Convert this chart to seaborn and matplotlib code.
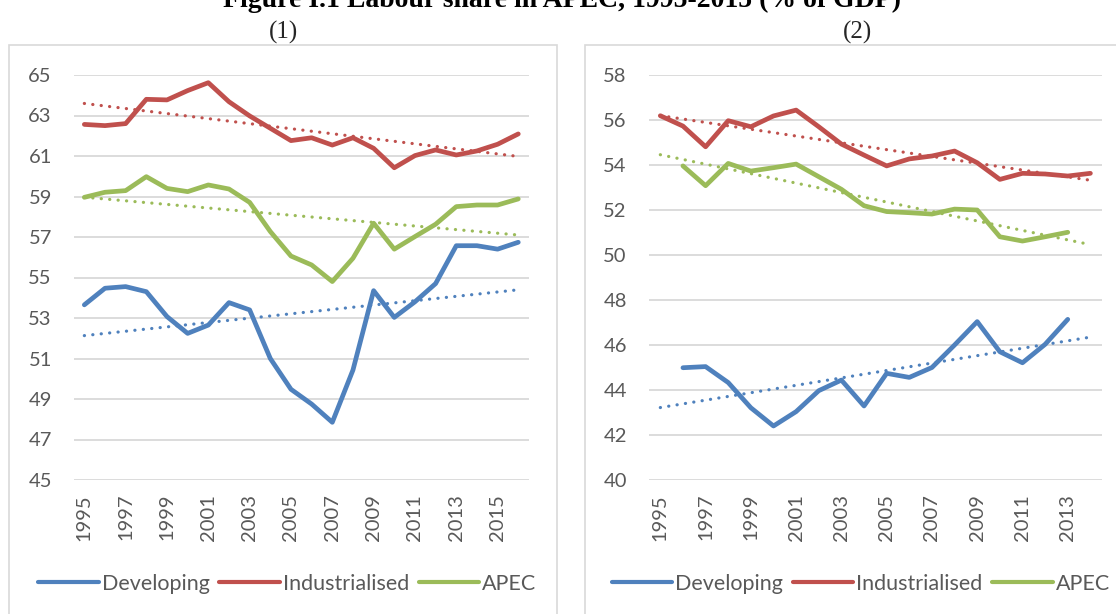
import numpy as np
import pandas as pd
import matplotlib
matplotlib.use('Agg')
import matplotlib.pyplot as plt
import seaborn as sns
from matplotlib.patches import Rectangle
from matplotlib.lines import Line2D

# Panel (1): 1995-2016
years1 = list(range(1995, 2017))
developing1 = [53.65, 54.47, 54.55, 54.3, 53.07, 52.24, 52.65, 53.76, 53.4, 51.0, 49.48,
               48.75, 47.85, 50.43, 54.35, 53.03, 53.8, 54.7, 56.57, 56.57, 56.4, 56.74]
industrialised1 = [62.56, 62.5, 62.6, 63.8, 63.77, 64.23, 64.62, 63.68, 62.98, 62.37, 61.76,
                   61.9, 61.54, 61.9, 61.38, 60.42, 61.02, 61.3, 61.05, 61.25, 61.58, 62.09]
apec1 = [58.96, 59.21, 59.29, 59.98, 59.4, 59.24, 59.57, 59.37, 58.71, 57.27, 56.06,
         55.62, 54.8, 55.95, 57.68, 56.4, 57.02, 57.63, 58.5, 58.58, 58.58, 58.88]

# Panel (2): 1995-2014 (developing / APEC only 1996-2013)
years2 = list(range(1995, 2015))
developing2 = [np.nan, 44.99, 45.04, 44.33, 43.21, 42.4, 43.04, 43.97, 44.44, 43.29, 44.74,
               44.56, 45.0, 46.0, 47.04, 45.7, 45.21, 46.03, 47.14, np.nan]
industrialised2 = [56.19, 55.73, 54.81, 55.97, 55.7, 56.18, 56.44, 55.7, 54.93, 54.44, 53.96,
                   54.27, 54.4, 54.62, 54.1, 53.36, 53.63, 53.6, 53.51, 53.63]
apec2 = [np.nan, 53.96, 53.08, 54.07, 53.73, 53.88, 54.04, 53.48, 52.92, 52.19, 51.93,
         51.88, 51.82, 52.04, 52.0, 50.81, 50.62, 50.81, 51.01, np.nan]

series_names = ['Developing', 'Industrialised', 'APEC']
colors = {'Developing': '#4F81BD', 'Industrialised': '#C0504D', 'APEC': '#9BBB59'}

sns.set_style('white')
plt.rcParams['font.family'] = ['Lato', 'DejaVu Sans']

W, H = 1116, 614
fig = plt.figure(figsize=(W / 100, H / 100), dpi=100)


def fpos(x0, y0, x1, y1):
    # pixel box -> figure fraction
    return [x0 / W, 1 - y1 / H, (x1 - x0) / W, (y1 - y0) / H]


# panel frames
for x0, x1 in [(9, 557), (585, 1130)]:
    fig.patches.append(Rectangle((x0 / W, -0.05), (x1 - x0) / W, 1.05 - 45 / H,
                                 transform=fig.transFigure, fill=False,
                                 edgecolor='#d9d9d9', linewidth=1.2))

# title is clipped by the top edge, as in the source page
fig.text(562 / W, 1 - 7 / H, 'Figure I.1 Labour share in APEC, 1995-2015 (% of GDP)',
         ha='center', va='baseline', fontsize=20, fontweight='bold',
         family='Liberation Serif', color='black')
fig.text(283 / W, 1 - 32 / H, '(1)', ha='center', va='center', fontsize=18,
         family='Liberation Serif')
fig.text(858 / W, 1 - 32 / H, '(2)', ha='center', va='center', fontsize=18,
         family='Liberation Serif')


def draw_panel(ax, years, data, ylim, yticks):
    df = pd.DataFrame({'Year': years, **data})
    long = df.melt(id_vars='Year', var_name='Series', value_name='Value').dropna()
    sns.lineplot(data=long, x='Year', y='Value', hue='Series', hue_order=series_names,
                 palette=colors, linewidth=3.4, ax=ax, legend=False,
                 solid_capstyle='round', solid_joinstyle='round', zorder=3)
    # linear trendlines (as Excel does)
    xs = np.arange(len(years))
    for name in series_names:
        vals = np.array(data[name], dtype=float)
        ok = ~np.isnan(vals)
        k, b = np.polyfit(xs[ok], vals[ok], 1)
        ax.plot(years, k * xs + b, color=colors[name], linewidth=2.3,
                linestyle=(0, (0.05, 2.6)), dash_capstyle='round', zorder=2)
    ax.set_xlim(years[0] - 0.5, years[-1] + 0.5)
    ax.set_ylim(*ylim)
    ax.set_yticks(yticks)
    ax.set_xticks(years[::2])
    ax.set_xticklabels([str(y) for y in years[::2]], rotation=90)
    ax.grid(axis='y', color='#d9d9d9', linewidth=1.3)
    ax.grid(axis='x', visible=False)
    ax.set_axisbelow(True)
    for s in ax.spines.values():
        s.set_visible(False)
    ax.tick_params(axis='both', length=0, labelsize=14.5, colors='#595959')
    ax.tick_params(axis='y', pad=16)
    ax.tick_params(axis='x', pad=10)
    ax.set_xlabel('')
    ax.set_ylabel('')
    ax.patch.set_alpha(0)


ax1 = fig.add_axes(fpos(74, 75, 528.6, 480))
draw_panel(ax1, years1, {'Developing': developing1, 'Industrialised': industrialised1,
                         'APEC': apec1}, (45, 65), range(45, 66, 2))
ax2 = fig.add_axes(fpos(649, 75, 1101.7, 480))
draw_panel(ax2, years2, {'Developing': developing2, 'Industrialised': industrialised2,
                         'APEC': apec2}, (40, 58), range(40, 59, 2))

handles = [Line2D([], [], color=colors[n], linewidth=3.0, solid_capstyle='round')
           for n in series_names]
for cx in [287.5 / W, 861 / W]:
    fig.legend(handles, series_names, loc='center', bbox_to_anchor=(cx, 1 - 584 / H),
               ncol=3, frameon=False, fontsize=15.5, handlelength=2.8,
               handletextpad=0.15, columnspacing=0.45, labelcolor='#595959')

fig.savefig('out.png', dpi=100)
